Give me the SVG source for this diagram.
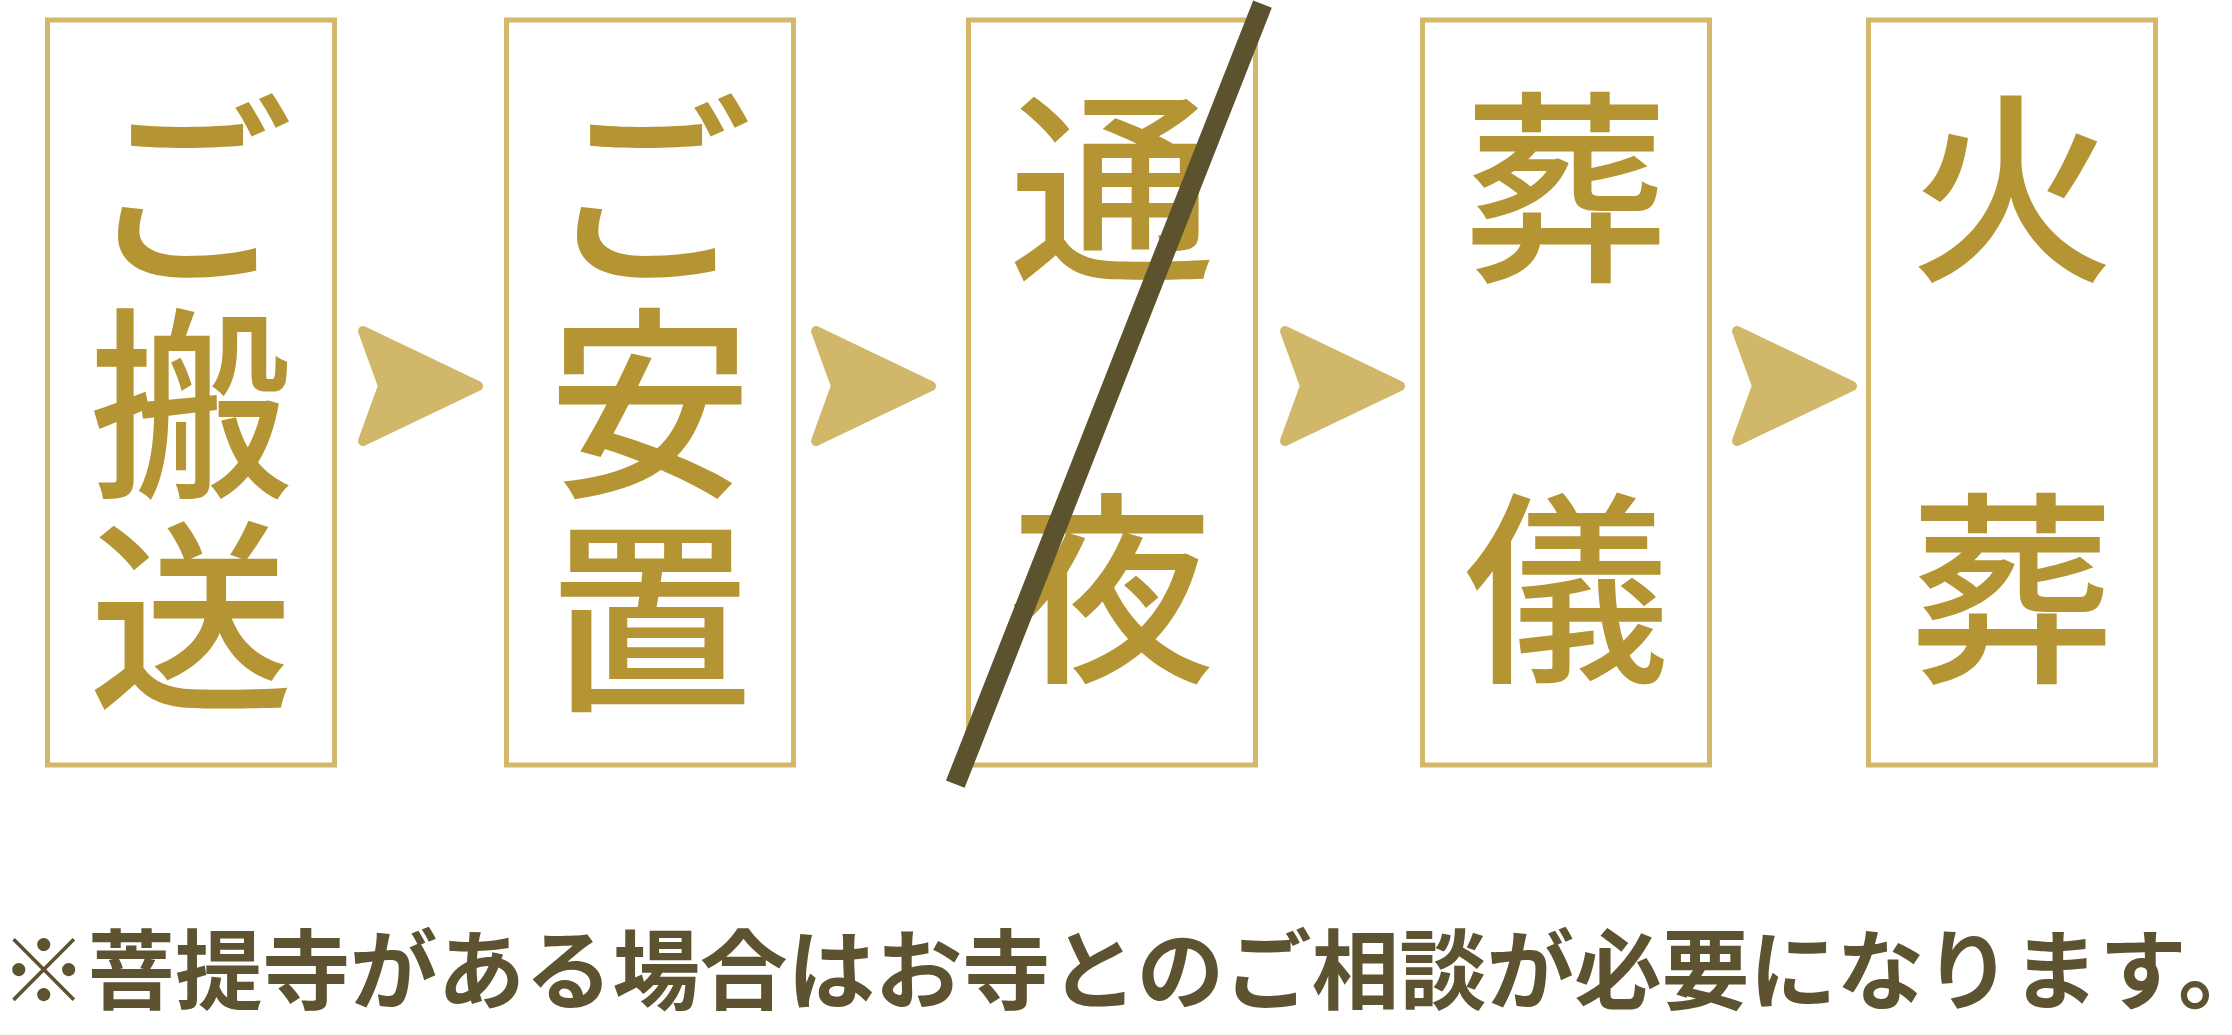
<svg xmlns="http://www.w3.org/2000/svg" width="2232" height="1035" viewBox="0 0 2232 1035">
<style>
.box{fill:#ffffff;stroke:#d3b86a;stroke-width:5}
.ch{font-family:"Noto Sans CJK JP","Noto Sans CJK SC",sans-serif;font-size:205px;fill:#b59533;text-anchor:middle;font-weight:500}
.arrow{fill:#d1b76a;stroke:#d1b76a;stroke-width:10;stroke-linejoin:round}
.note{font-family:"Noto Sans CJK JP","Noto Sans CJK SC",sans-serif;font-size:87.5px;fill:#5e5330;font-weight:700}
</style>
<defs>
<polygon id="arr" points="363,331 478,386 363,441 383,386"/>
</defs>
<rect width="2232" height="1035" fill="#ffffff"/>
<g id="node-transport">
<rect class="box" x="47.5" y="20" width="287" height="745"/>
<text class="ch" x="191" y="268">ご</text>
<text class="ch" x="191" y="481">搬</text>
<text class="ch" x="191" y="694">送</text>
</g>
<g id="node-placement">
<rect class="box" x="506.5" y="20" width="287" height="745"/>
<text class="ch" x="650" y="268">ご</text>
<text class="ch" x="650" y="481">安</text>
<text class="ch" x="650" y="694">置</text>
</g>
<g id="node-wake">
<rect class="box" x="968.5" y="20" width="287" height="745"/>
<text class="ch" x="1112" y="265">通</text>
<text class="ch" x="1112" y="666">夜</text>
</g>
<g id="node-funeral">
<rect class="box" x="1422.5" y="20" width="287" height="745"/>
<text class="ch" x="1566" y="265">葬</text>
<text class="ch" x="1566" y="666">儀</text>
</g>
<g id="node-cremation">
<rect class="box" x="1868.5" y="20" width="287" height="745"/>
<text class="ch" x="2012" y="265">火</text>
<text class="ch" x="2012" y="666">葬</text>
</g>
<g id="connectors">
<use href="#arr" class="arrow"/>
<use href="#arr" class="arrow" transform="translate(453,0)"/>
<use href="#arr" class="arrow" transform="translate(922,0)"/>
<use href="#arr" class="arrow" transform="translate(1374,0)"/>
</g>
<g id="strike">
<line x1="1262.5" y1="4.2" x2="955.3" y2="784.2" stroke="#5c522d" stroke-width="20" stroke-linecap="butt"/>
</g>
<g id="footnote">
<text class="note" x="0" y="1003">※菩提寺がある場合はお寺とのご相談が必要になります。</text>
</g>
</svg>
